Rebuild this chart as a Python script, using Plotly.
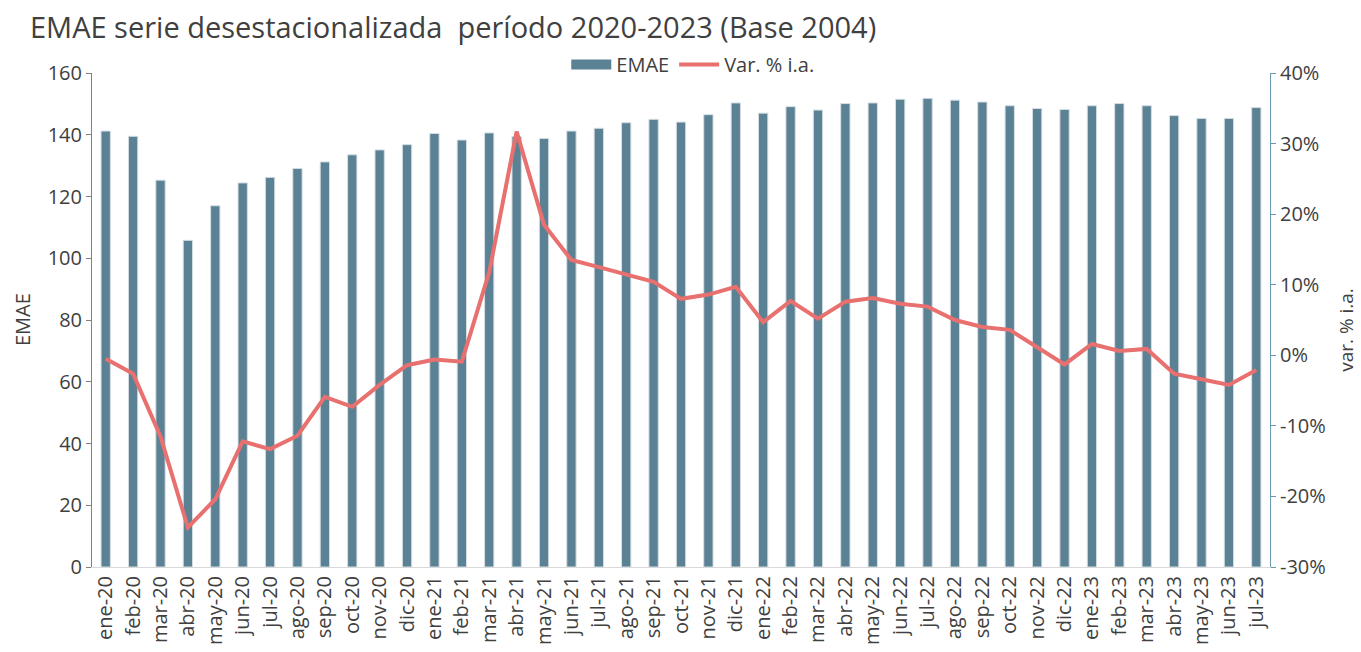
import plotly.graph_objects as go

meses = ["ene", "feb", "mar", "abr", "may", "jun", "jul", "ago", "sep", "oct", "nov", "dic"]
categorias = [f"{m}-{y}" for y in ["20", "21", "22"] for m in meses] + [f"{m}-23" for m in meses[:7]]

emae = [141.2, 139.5, 125.3, 105.8, 117.0, 124.4, 126.2, 129.1, 131.2, 133.5, 135.1, 136.8,
        140.4, 138.3, 140.6, 139.4, 138.8, 141.2, 142.1, 143.9, 145.0, 144.1, 146.5, 150.3,
        147.0, 149.1, 148.0, 150.1, 150.3, 151.5, 151.8, 151.2, 150.6, 149.4, 148.5, 148.2,
        149.4, 150.1, 149.4, 146.2, 145.3, 145.3, 148.8]

var_ia = [-0.5, -2.6, -11.5, -24.4, -20.4, -12.2, -13.3, -11.4, -5.9, -7.3, -4.2, -1.4,
          -0.6, -0.9, 11.8, 31.7, 18.5, 13.5, 12.5, 11.5, 10.4, 8.0, 8.6, 9.7,
          4.7, 7.7, 5.2, 7.6, 8.1, 7.3, 6.9, 5.0, 4.0, 3.6, 1.2, -1.3,
          1.6, 0.6, 0.9, -2.6, -3.4, -4.2, -2.1]

pct_ticks = [-30, -20, -10, 0, 10, 20, 30, 40]
pct_labels = ["-30%", "-20%", "-10%", "0%", "10%", "20%", "30%", "40%"]

font_family = "Open Sans, Lato, sans-serif"
text_color = "#404040"
bar_color = "#5B8194"
line_color = "#E8706F"

fig = go.Figure()
fig.add_trace(go.Bar(
    x=categorias, y=emae, name="EMAE", showlegend=False,
    marker=dict(color=bar_color, line=dict(color="#D5DEE4", width=1)),
    yaxis="y",
))
# legend entry drawn as a wide rectangle like the original
fig.add_trace(go.Scatter(
    x=[None], y=[None], name="EMAE", mode="lines",
    line=dict(color=bar_color, width=10), yaxis="y",
))
fig.add_trace(go.Scatter(
    x=categorias, y=var_ia, name="Var. % i.a.", mode="lines",
    line=dict(color=line_color, width=4),
    yaxis="y2",
))

fig.update_layout(
    width=1361, height=652,
    margin=dict(l=92, r=91, t=73, b=85),
    paper_bgcolor="white", plot_bgcolor="white",
    font=dict(family=font_family, color=text_color, size=20),
    title=dict(text="EMAE serie desestacionalizada  período 2020-2023 (Base 2004)",
               x=0.022, xanchor="left", y=0.957, yanchor="middle",
               font=dict(size=29, color=text_color, family=font_family)),
    bargap=0.66,
    showlegend=True,
    legend=dict(orientation="h", x=0.51, xanchor="center", y=1.017, yanchor="middle",
                font=dict(size=20, color=text_color), bgcolor="rgba(0,0,0,0)",
                itemwidth=40, tracegroupgap=0),
    xaxis=dict(
        type="category", tickangle=-90, showgrid=False, automargin=False,
        showline=True, linecolor="#D9D9D9", linewidth=1,
        ticks="", tickfont=dict(size=20, color=text_color),
    ),
    yaxis=dict(
        range=[0, 160], dtick=20, showgrid=False, automargin=False,
        showline=True, linecolor="#808080", linewidth=1,
        ticks="outside", ticklen=5, tickcolor="#808080",
        tickfont=dict(size=20, color=text_color),
        zeroline=False,
    ),
    yaxis2=dict(
        range=[-30, 40], tickmode="array", tickvals=pct_ticks, ticktext=pct_labels,
        overlaying="y", side="right", automargin=False,
        showgrid=False, showline=True, linecolor="#6A9AB0", linewidth=1,
        ticks="outside", ticklen=5, tickcolor="#6A9AB0",
        tickfont=dict(size=20, color=text_color),
        zeroline=False,
    ),
    annotations=[
        dict(text="EMAE", textangle=-90, xref="paper", yref="paper",
             x=-0.0594, y=0.5, xanchor="center", yanchor="middle", showarrow=False,
             font=dict(size=20, color=text_color)),
        dict(text="var. % i.a.", textangle=-90, xref="paper", yref="paper",
             x=1.0645, y=0.48, xanchor="center", yanchor="middle", showarrow=False,
             font=dict(size=19, color=text_color)),
    ],
)

fig.write_html(
    "out.html",
    config={"displayModeBar": False},
    post_script="document.body.style.margin='0px';document.body.style.overflow='hidden';",
)
